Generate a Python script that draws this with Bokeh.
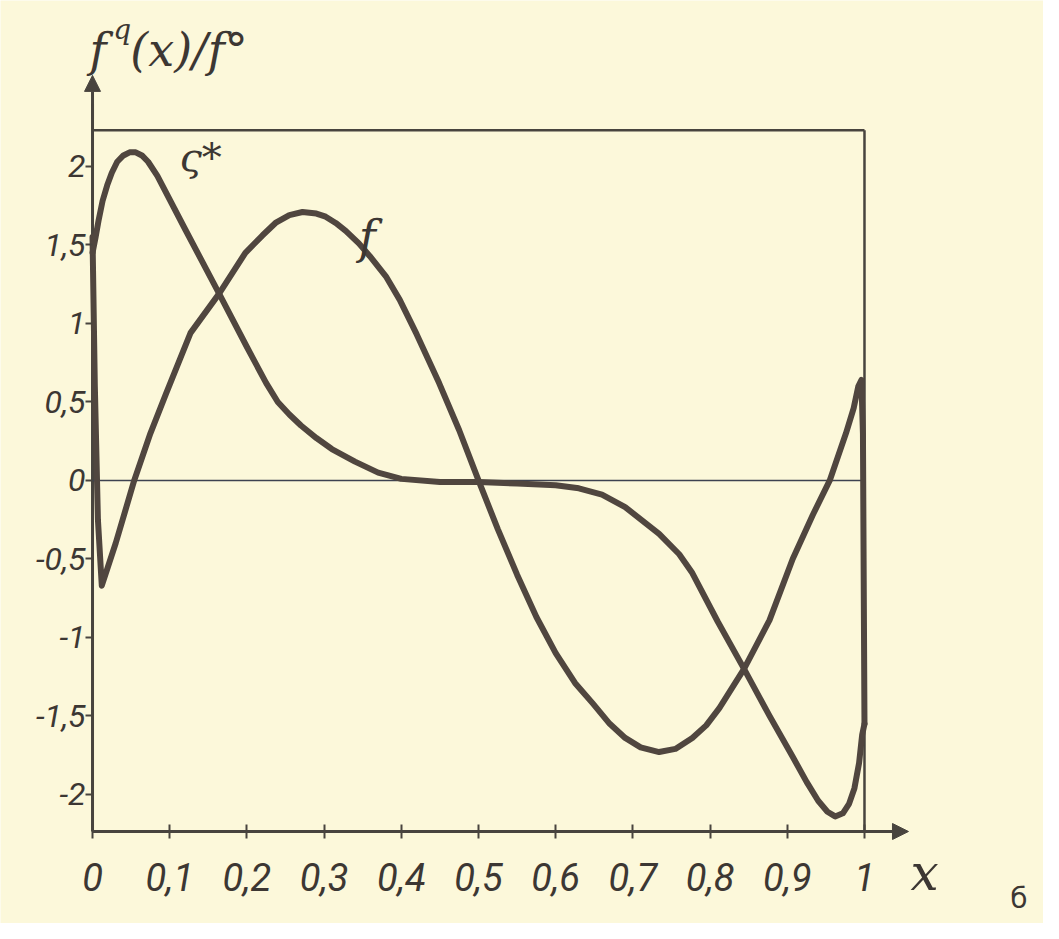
from bokeh.plotting import figure
from bokeh.models import Range1d, Label, Arrow, NormalHead, FixedTicker
from bokeh.embed import file_html
from bokeh.resources import INLINE

# ---- data ----
f_x = [0.0, 0.003, 0.007, 0.012, 0.02, 0.03, 0.042, 0.054, 0.075, 0.095, 0.127,
       0.164, 0.198, 0.22, 0.237, 0.255, 0.272, 0.29, 0.302, 0.315, 0.328, 0.345,
       0.359, 0.38, 0.398, 0.42, 0.449, 0.475, 0.5,
       0.525, 0.55, 0.575, 0.6, 0.625, 0.648, 0.67, 0.69, 0.71, 0.734, 0.755,
       0.777, 0.795, 0.812, 0.844, 0.877, 0.907,
       0.933, 0.955, 0.976, 0.986, 0.992, 0.996, 0.998, 1.0]
f_y = [1.55, 0.6, -0.25, -0.67, -0.55, -0.40, -0.2, 0.0, 0.3, 0.55, 0.94,
       1.19, 1.45, 1.56, 1.64, 1.69, 1.71, 1.70, 1.68, 1.64, 1.59, 1.51,
       1.43, 1.30, 1.15, 0.93, 0.62, 0.32, 0.0,
       -0.31, -0.6, -0.87, -1.1, -1.29, -1.42, -1.55, -1.64, -1.70, -1.73, -1.71,
       -1.64, -1.56, -1.45, -1.2, -0.89, -0.5,
       -0.22, 0.0, 0.30, 0.46, 0.60, 0.64, 0.3, -1.55]

g_x = [0.0, 0.004, 0.008, 0.013, 0.019, 0.025, 0.032, 0.04, 0.048, 0.056, 0.064,
       0.072, 0.084, 0.12, 0.164, 0.2, 0.225, 0.24, 0.255, 0.27, 0.29, 0.31,
       0.34, 0.37, 0.4, 0.45, 0.5, 0.55, 0.6, 0.63, 0.66,
       0.69, 0.734, 0.76, 0.777, 0.81, 0.844, 0.877, 0.907, 0.925, 0.94, 0.952,
       0.962, 0.972, 0.98, 0.987, 0.993, 0.997, 1.0]
g_y = [1.45, 1.55, 1.66, 1.78, 1.88, 1.96, 2.03, 2.07, 2.09, 2.09, 2.07,
       2.03, 1.94, 1.6, 1.19, 0.85, 0.62, 0.5, 0.42, 0.35, 0.27, 0.2,
       0.12, 0.05, 0.01, -0.01, -0.01, -0.02, -0.03, -0.05, -0.09,
       -0.17, -0.34, -0.47, -0.59, -0.9, -1.2, -1.5, -1.76, -1.92, -2.04, -2.11,
       -2.14, -2.12, -2.06, -1.96, -1.8, -1.62, -1.55]

x_ticks = [0, 0.1, 0.2, 0.3, 0.4, 0.5, 0.6, 0.7, 0.8, 0.9, 1]
x_tick_labels = ["0", "0,1", "0,2", "0,3", "0,4", "0,5", "0,6", "0,7", "0,8", "0,9", "1"]
y_ticks = [-2, -1.5, -1, -0.5, 0, 0.5, 1, 1.5, 2]
y_tick_labels = ["-2", "-1,5", "-1", "-0,5", "0", "0,5", "1", "1,5", "2"]

BOX_TOP = 2.23
Y_BOT = -2.236
X_END = 1.057
Y_END = 2.58

BG = "#fcf8da"
INK = "#50463f"
AXIS = "#48443e"
TXT = "#3c3733"

p = figure(width=1043, height=923, output_backend="svg", toolbar_location=None,
           x_range=Range1d(-0.1192, 1.2319), y_range=Range1d(-2.822, 3.057),
           min_border_left=0, min_border_right=0, min_border_top=0,
           min_border_bottom=0)
p.background_fill_color = BG
p.border_fill_color = BG
p.outline_line_color = None
p.grid.visible = False

p.xaxis.fixed_location = Y_BOT
p.yaxis.fixed_location = 0

for ax in (p.xaxis[0], p.yaxis[0]):
    ax.axis_line_color = None
    ax.major_tick_line_color = AXIS
    ax.major_tick_line_width = 2
    ax.minor_tick_line_color = None
    ax.major_label_text_font = "Roboto"
    ax.major_label_text_font_style = "italic"
    ax.major_label_text_color = TXT

p.xaxis.ticker = FixedTicker(ticks=x_ticks)
p.xaxis.major_label_overrides = {t: l for t, l in zip(x_ticks, x_tick_labels)}
p.xaxis.major_label_text_font_size = "38px"
p.xaxis.major_tick_out = 7
p.xaxis.major_tick_in = 7
p.xaxis.major_label_standoff = 25

p.yaxis.ticker = FixedTicker(ticks=y_ticks)
p.yaxis.major_label_overrides = {t: l for t, l in zip(y_ticks, y_tick_labels)}
p.yaxis.major_label_text_font_size = "32px"
p.yaxis.major_tick_out = 7
p.yaxis.major_tick_in = 0
p.yaxis.major_label_standoff = 0

# axis lines, box and zero line
p.line([0, 0], [Y_BOT, 2.4], line_color=AXIS, line_width=3)
p.line([0, 1.0], [Y_BOT, Y_BOT], line_color=AXIS, line_width=3)
p.line([0, 1], [BOX_TOP, BOX_TOP], line_color=AXIS, line_width=2.5)
p.line([1, 1], [Y_BOT, BOX_TOP], line_color=AXIS, line_width=2.5)
p.line([0, 1], [0, 0], line_color="#3d4250", line_width=1.6)

# curves
p.line(f_x, f_y, line_color=INK, line_width=6, line_join="round", line_cap="round")
p.line(g_x, g_y, line_color=INK, line_width=6, line_join="round", line_cap="round")

# arrows
p.add_layout(Arrow(end=NormalHead(size=16, fill_color=AXIS, line_color=AXIS),
                   line_color=AXIS, line_width=3,
                   x_start=0.98, y_start=Y_BOT, x_end=X_END, y_end=Y_BOT))
p.add_layout(Arrow(end=NormalHead(size=16, fill_color=AXIS, line_color=AXIS),
                   line_color=AXIS, line_width=3,
                   x_start=0, y_start=2.3, x_end=0, y_end=Y_END))

def lab(x, y, text, size, font="DejaVu Serif", style="italic", align="center",
        baseline="middle"):
    p.add_layout(Label(x=x, y=y, text=text, text_font=font, text_font_style=style,
                       text_font_size=size, text_color=TXT, text_align=align,
                       text_baseline=baseline))

lab(0.356, 1.55, "f", "46px")
lab(0.14, 2.06, "ς*", "40px")
lab(1.078, -2.50, "x", "50px")
lab(1.2, -2.66, "б", "28px", font="DejaVu Sans", style="normal")
# y axis title
lab(-0.004, 2.74, "f", "46px", align="left", baseline="alphabetic")
lab(0.027, 2.87, "q", "28px", align="left", baseline="alphabetic")
lab(0.049, 2.74, "(x)/f°", "46px", align="left", baseline="alphabetic")

open("out.html", "w").write(file_html(p, INLINE))
